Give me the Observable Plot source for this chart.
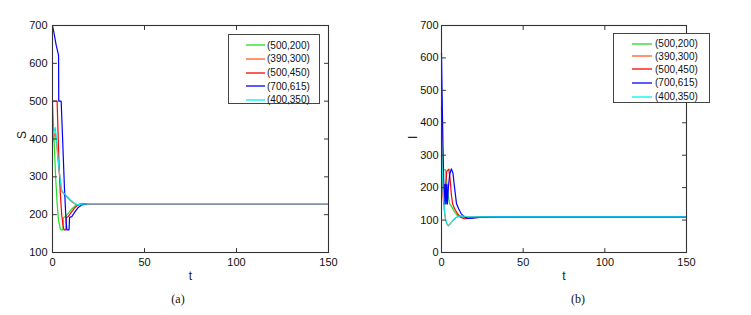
<!DOCTYPE html>
<html>
<head>
<meta charset="utf-8">
<script src="https://cdn.jsdelivr.net/npm/d3@7"></script>
<script src="https://cdn.jsdelivr.net/npm/@observablehq/plot@0.6"></script>
<style>
  body { margin: 0; background: #fff; }
  #wrap { position: relative; width: 751px; height: 315px; background: #fff; overflow: hidden; }
  .panel { position: absolute; top: 0; }
  .legend { position: absolute; border: 1px solid #444; background: #fff; box-sizing: border-box;
            font-family: "Liberation Sans Narrow", "Arial Narrow", sans-serif; font-size: 10px; color: #111; }
  .legend .row { position: absolute; left: 0; height: 12px; display: flex; align-items: center; }
  .cap { position: absolute; font-family: "Liberation Serif", "Times New Roman", serif; font-size: 12px; color: #111; }
</style>
</head>
<body>
<div id="wrap"></div>
<script>
// ---------- data ----------
const seriesNames = ["(500,200)", "(390,300)", "(500,450)", "(700,615)", "(400,350)"];
const seriesColors = ["#22dd22", "#ff5a28", "#ff0000", "#0000ff", "#00f0f0"];

const tTicks = [0, 50, 100, 150];
const sTicks = [100, 200, 300, 400, 500, 600, 700];
const iTicks = [0, 100, 200, 300, 400, 500, 600, 700];

// S(t) — panel (a)
const S_500_200 = [[0,500],[0.5,440],[1,380],[1.7,300],[2.5,230],[3.3,185],[4.2,163],[4.7,160],[5.7,160],[5.9,192],[7,195],[9,206],[11,218],[13,226],[16,229],[150,229]];
const S_390_300 = [[0,390],[0.8,408],[1.5,415],[2.2,390],[3,345],[4,298],[5,262],[6,256],[8,246],[10,236],[12,229],[13.5,226],[16,228],[20,229],[150,229]];
const S_500_450 = [[0,500],[2.5,500],[3,420],[3.5,340],[4.2,260],[5,200],[5.8,168],[6.3,160],[7.3,160],[7.5,192],[8.5,195],[10,205],[12,218],[14,226],[17,229],[150,229]];
const S_700_615 = [[0,700],[1,675],[2,648],[3.3,621],[3.4,500],[4.7,500],[5.5,400],[6.5,270],[7.3,190],[7.8,160],[9,160],[9.3,193],[10.5,195],[12,206],[14,219],[16,226],[19,229],[150,229]];
const S_400_350 = [[0,400],[0.8,420],[1.5,430],[2.2,400],[3,350],[4,300],[5,265],[6,258],[8,248],[10,238],[12,230],[13.5,226],[16,228],[20,229],[150,229]];

// I(t) — panel (b)
const I_500_200 = [[0,200],[0.5,235],[1,255],[2.5,255],[3,230],[4,180],[5,150],[6,143],[8,125],[10,113],[12,108],[15,107],[20,109],[30,110],[150,110]];
const I_390_300 = [[0,300],[0.5,230],[1,175],[1.7,130],[2.5,100],[3.5,86],[4.2,83],[5,87],[6.5,96],[8,104],[10,110],[12,112],[15,111],[20,110],[150,110]];
const I_500_450 = [[0,450],[0.4,330],[0.9,210],[1.3,150],[1.7,210],[2.1,150],[2.6,215],[3.2,250],[4.5,257],[5.2,230],[6,180],[6.8,150],[8,135],[10,118],[12,108],[14,104],[17,105],[22,109],[30,110],[150,110]];
const I_700_615 = [[0,615],[0.4,480],[0.9,330],[1.4,210],[1.8,150],[2.3,210],[2.7,150],[3.2,210],[3.6,150],[4.2,200],[5,240],[6,258],[7,245],[8,200],[9.2,150],[10.5,135],[12,120],[14,110],[16,105],[19,106],[25,109],[35,110],[150,110]];
const I_400_350 = [[0,350],[0.5,260],[1,190],[1.7,135],[2.5,102],[3.5,87],[4.2,82],[5,86],[6.5,96],[8,105],[10,111],[12,113],[15,111],[20,110],[150,110]];

const S_series = [S_500_200, S_390_300, S_500_450, S_700_615, S_400_350];
const I_series = [I_500_200, I_390_300, I_500_450, I_700_615, I_400_350];

// ---------- helpers ----------
const toRows = (list) => list.flatMap((pts, k) => pts.map(([t, v]) => ({t, v, s: seriesNames[k]})));
const inTick = {draw(ctx, l) { ctx.moveTo(0, 0); ctx.lineTo(0, -l); }};
const tickStyle = {length: 4, anchor: "start", shape: inTick, stroke: "#333", strokeWidth: 1};

function panel({rows, yTicks, yDomain, yLabel, width, marginLeft, marginRight, yLabelDx, yTickPad}) {
  return Plot.plot({
    width, height: 280,
    marginLeft, marginRight, marginTop: 25, marginBottom: 28,
    style: {fontFamily: '"Liberation Sans Narrow", "Arial Narrow", sans-serif', fontSize: "10px", color: "#111", background: "transparent", overflow: "visible"},
    x: {domain: [0, 150]},
    y: {domain: yDomain},
    color: {domain: seriesNames, range: seriesColors},
    marks: [
      Plot.line(rows, {x: "t", y: "v", z: "s", stroke: "s", strokeWidth: 1.2}),
      Plot.frame({stroke: "#333", strokeWidth: 1.1}),
      Plot.vector(tTicks, {x: d => d, frameAnchor: "bottom", rotate: 0, ...tickStyle}),
      Plot.vector(tTicks, {x: d => d, frameAnchor: "top", rotate: 180, ...tickStyle}),
      Plot.vector(yTicks, {y: d => d, frameAnchor: "left", rotate: 90, ...tickStyle}),
      Plot.vector(yTicks, {y: d => d, frameAnchor: "right", rotate: -90, ...tickStyle}),
      Plot.axisX({ticks: tTicks, tickSize: 0, tickPadding: 6, label: null, fontSize: 11}),
      Plot.axisY({ticks: yTicks, tickSize: 0, tickPadding: yTickPad, label: null, fontSize: 11}),
      Plot.text(["t"], {frameAnchor: "bottom", lineAnchor: "middle", dy: 24, fontSize: 12, fontFamily: "Liberation Sans, Arial, sans-serif", fill: "#222"}),
      Plot.text([yLabel], {frameAnchor: "left", dx: yLabelDx, rotate: -90, fontSize: 12, fontFamily: "Liberation Sans, Arial, sans-serif", fill: "#222"})
    ]
  });
}

const wrap = document.getElementById("wrap");

const left = panel({rows: toRows(S_series), yTicks: sTicks, yDomain: [100, 700], yLabel: "S",
  width: 370, marginLeft: 52, marginRight: 42, yLabelDx: -30, yTickPad: 5});
left.classList.add("panel"); left.style.left = "0px";
wrap.appendChild(left);

const right = panel({rows: toRows(I_series), yTicks: iTicks, yDomain: [0, 700], yLabel: "I",
  width: 381, marginLeft: 71, marginRight: 65, yLabelDx: -28, yTickPad: 3});
right.classList.add("panel"); right.style.left = "370px";
wrap.appendChild(right);

// ---------- legends ----------
function legend({x, y, w, h, lineX, lineW, textX, rowYs}) {
  const box = document.createElement("div");
  box.className = "legend";
  Object.assign(box.style, {left: x + "px", top: y + "px", width: w + "px", height: h + "px"});
  seriesNames.forEach((name, k) => {
    const row = document.createElement("div");
    row.className = "row";
    row.style.top = (rowYs[k] - 6) + "px";
    row.innerHTML = `<svg width="${textX}" height="12" style="display:block"><line x1="${lineX}" x2="${lineX + lineW}" y1="6" y2="6" stroke="${seriesColors[k]}" stroke-width="1.3"/></svg><span>${name}</span>`;
    box.appendChild(row);
  });
  wrap.appendChild(box);
}
legend({x: 228, y: 34, w: 92, h: 70, lineX: 17, lineW: 19, textX: 38, rowYs: [10, 23.7, 37.7, 51, 64.5]});
legend({x: 613, y: 33, w: 97, h: 70, lineX: 18, lineW: 20, textX: 41, rowYs: [9.7, 22.3, 35.3, 48.7, 62.7]});

// ---------- captions ----------
function caption(text, cx, cy) {
  const d = document.createElement("div");
  d.className = "cap";
  d.textContent = text;
  Object.assign(d.style, {left: (cx - 20) + "px", width: "40px", textAlign: "center", top: (cy - 8) + "px"});
  wrap.appendChild(d);
}
caption("(a)", 178, 300);
caption("(b)", 578, 300);
</script>
</body>
</html>
